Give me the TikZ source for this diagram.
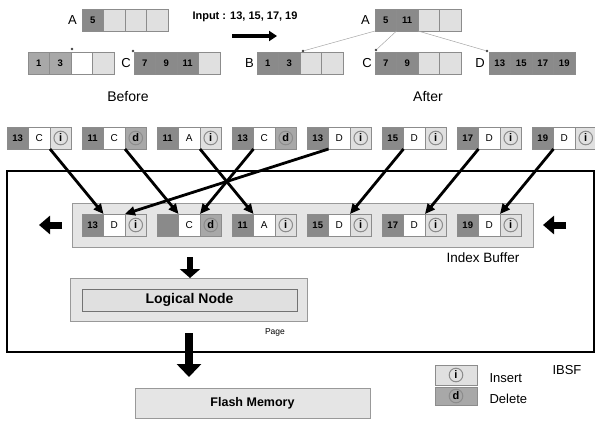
\documentclass[tikz,border=0pt]{standalone}
\usepackage{fontspec}
\setmainfont{Liberation Sans}
\usetikzlibrary{positioning,arrows.meta}
\definecolor{cellDark}{gray}{0.54}
\definecolor{cellMid}{gray}{0.66}
\definecolor{cellLight}{gray}{0.88}
\definecolor{panelGray}{gray}{0.90}
\tikzset{
  font={\fontsize{10pt}{12}\selectfont},
  cell/.style={draw=black!45, line width=0.5pt, minimum width=21.5pt,
    minimum height=22pt, inner sep=0pt, outer sep=0pt},
  dk/.style={cell, fill=cellDark, font={\fontsize{9.5pt}{11}\selectfont\bfseries}},
  md/.style={cell, fill=cellMid, font={\fontsize{9.5pt}{11}\selectfont\bfseries}},
  lt/.style={cell, fill=cellLight},
  wh/.style={cell, fill=white},
  ring/.style={path picture={\draw[line width=1pt]
    (path picture bounding box.center) circle (6.8pt);}},
  opi/.style={lt, ring, font={\fontsize{11pt}{12}\selectfont\bfseries}},
  opd/.style={cell, fill=cellMid, ring, font={\fontsize{11pt}{12}\selectfont\bfseries}},
  tag/.style={inner sep=0pt, font={\fontsize{13pt}{15}\selectfont}},
  ptr/.style={circle, fill=black!75, inner sep=0pt, minimum size=2.6pt},
  link/.style={draw=black!35, line width=0.5pt},
  panel/.style={draw=black!40, fill=panelGray, line width=0.6pt, inner sep=0pt, outer sep=0pt},
  feed/.style={-{Triangle[length=10pt,width=9pt]}, line width=2.8pt},
  push/.style={-{Triangle[length=11pt,width=18pt]}, line width=7pt},
  label/.style={font={\fontsize{13pt}{15}\selectfont}},
}
\begin{document}
\begin{tikzpicture}[x=1pt,y=-1pt]
\useasboundingbox (0,0) rectangle (595,421);

% before
\foreach \sty/\val [count=\i] in {dk/5,lt/,lt/,lt/}
  \node[\sty] (bfA\i) at (71.25+21.5*\i,20) {\val};
\foreach \sty/\val [count=\i] in {md/1,md/3,wh/,lt/}
  \node[\sty] (bfL\i) at (17.25+21.5*\i,63) {\val};
\foreach \sty/\val [count=\i] in {dk/7,dk/9,dk/11,lt/}
  \node[\sty] (bfC\i) at (123.25+21.5*\i,63) {\val};
\node[tag, left=5pt of bfA1] (tbfA) {A};
\node[tag, left=3pt of bfC1] (tbfC) {C};
\node[ptr] (pL) at ([shift={(1,-3)}]bfL2.north east) {};
\node[ptr] (pC) at ([shift={(-1,-1)}]bfC1.north west) {};
\node[font={\fontsize{14pt}{16}\selectfont}] (before) at (128,96) {Before};

% input
\node[font={\fontsize{11pt}{13}\selectfont\bfseries}] (input) at (245,17) {Input : 13, 15, 17, 19};
\coordinate (go0) at (232,36);
\coordinate (go1) at (277,36);
\draw[-{Triangle[length=8pt,width=10pt]}, line width=3.5pt] (go0) -- (go1);

% after
\foreach \sty/\val [count=\i] in {dk/5,dk/11,lt/,lt/}
  \node[\sty] (afA\i) at (364.25+21.5*\i,20) {\val};
\foreach \sty/\val [count=\i] in {dk/1,dk/3,lt/,lt/}
  \node[\sty] (afB\i) at (246.25+21.5*\i,63) {\val};
\foreach \sty/\val [count=\i] in {dk/7,dk/9,lt/,lt/}
  \node[\sty] (afC\i) at (364.25+21.5*\i,63) {\val};
\foreach \sty/\val [count=\i] in {dk/13,dk/15,dk/17,dk/19}
  \node[\sty] (afD\i) at (478.25+21.5*\i,63) {\val};
\node[tag, left=5pt of afA1] (tafA) {A};
\node[tag, left=3pt of afB1] (tafB) {B};
\node[tag, left=3pt of afC1] (tafC) {C};
\node[tag, left=4pt of afD1] (tafD) {D};
\node[ptr] (qB) at ([shift={(3,-1)}]afB2.north east) {};
\node[ptr] (qC) at ([shift={(1,-2)}]afC1.north west) {};
\node[ptr] (qD) at ([shift={(-2,-1)}]afD1.north west) {};
\draw[link] (afA1.south west) -- (qB);
\draw[link] (afA1.south east) -- (qC);
\draw[link] (afA2.south east) -- (qD);
\node[font={\fontsize{14pt}{16}\selectfont}] (after) at (428,96) {After};

% IBSF frame and index buffer
\node[draw, line width=2.4pt, minimum width=587pt, minimum height=181pt, inner sep=0pt] (ibsf) at (300.5,261.5) {};
\node[panel, minimum width=461pt, minimum height=44pt] (ibuf) at (302.5,225) {};

\foreach \key/\op/\kind [count=\i] in {13/C/i,11/C/d,11/A/i,13/C/d,13/D/i,15/D/i,17/D/i,19/D/i}{
  \node[dk] (in\i-a) at (75*\i-57.25,138) {\key};
  \node[wh] (in\i-b) at (75*\i-35.75,138) {\op};
  \node[op\kind] (in\i-c) at (75*\i-14.25,138) {\kind};
}
\foreach \key/\op/\kind [count=\i] in {13/D/i,/C/d,11/A/i,15/D/i,17/D/i,19/D/i}{
  \node[dk] (bf\i-a) at (75*\i+17.75,225) {\key};
  \node[wh] (bf\i-b) at (75*\i+39.25,225) {\op};
  \node[op\kind] (bf\i-c) at (75*\i+60.75,225) {\kind};
}

\draw[feed] (in1-b.south east) -- (bf1-a.north east);
\draw[feed] (in2-b.south east) -- (bf2-a.north east);
\draw[feed] (in3-b.south east) -- (bf3-a.north east);
\draw[feed] (in4-a.south east) -- (bf2-b.north east);
\draw[feed] (in5-a.south east) -- (bf1-b.north east);
\foreach \i/\j in {6/4,7/5,8/6}
  \draw[feed] (in\i-a.south east) -- (bf\j-b.north east);

\coordinate (lt0) at (62,225);
\coordinate (lt1) at (39,225);
\coordinate (rt0) at (566,225);
\coordinate (rt1) at (543,225);
\draw[push] (lt0) -- (lt1);
\draw[push] (rt0) -- (rt1);
\node[font={\fontsize{13.5pt}{15}\selectfont}] (ibtag) at (483,258) {Index Buffer};

% logical node page
\node[panel, minimum width=237pt, minimum height=43pt] (page) at (188.5,299.5) {};
\node[panel, draw=black!55, fill=cellLight, minimum width=215pt, minimum height=22pt,
  font={\fontsize{14pt}{16}\selectfont\bfseries}] (lnode) at (189.5,300) {Logical Node};
\node[font={\fontsize{8.5pt}{10}\selectfont}] (pagetag) at (275,332) {Page};
\coordinate (dn0) at (190,257);
\draw[-{Triangle[length=9pt,width=20pt]}, line width=6pt] (dn0) -- (page.north -| dn0);

% flash
\node[panel, minimum width=235pt, minimum height=30pt,
  font={\fontsize{12.5pt}{14}\selectfont\bfseries}] (flash) at (252.5,403) {Flash Memory};
\coordinate (dn1) at (189,333);
\coordinate (dn2) at (189,377);
\draw[-{Triangle[length=13pt,width=24pt]}, line width=8pt] (dn1) -- (dn2);

% legend
\node[label, anchor=west] (ibsftag) at (549,370) {IBSF};
\node[opi, minimum width=42pt, minimum height=20pt] (keyI) at (456,375) {i};
\node[opd, minimum width=42pt, minimum height=18pt] (keyD) at (456,396) {d};
\node[label, anchor=west] (keyIt) at (486,378) {Insert};
\node[label, anchor=west] (keyDt) at (486,399) {Delete};
\end{tikzpicture}
\end{document}
